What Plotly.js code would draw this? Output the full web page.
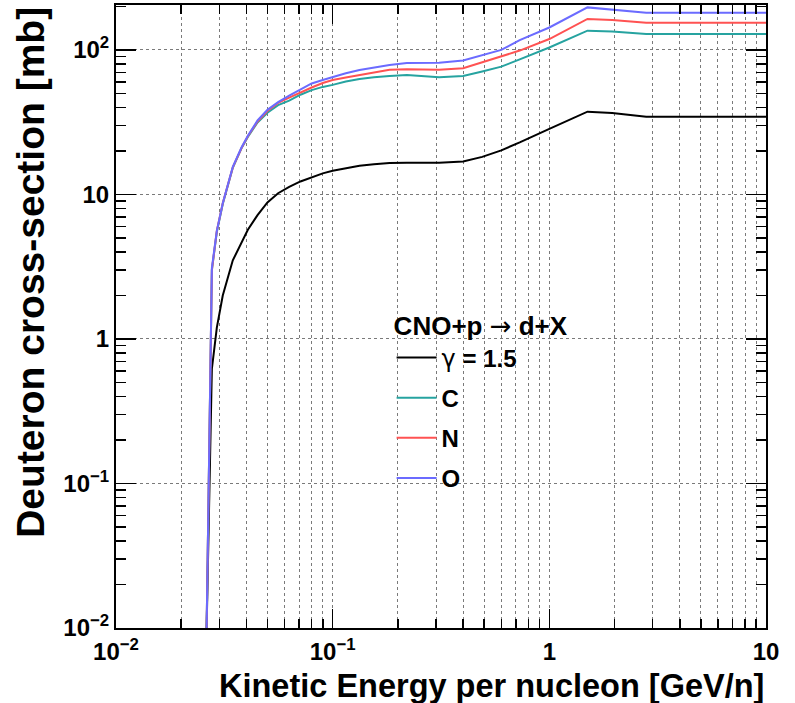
<!DOCTYPE html>
<html>
<head>
<meta charset="utf-8">
<script src="https://cdn.plot.ly/plotly-3.0.1.min.js"></script>
<style>
  html, body { margin: 0; padding: 0; background: #ffffff; }
  #chart { width: 795px; height: 703px; }
</style>
</head>
<body>
<div id="chart"></div>
<script>
// Kinetic energy per nucleon [GeV/n]
var energy = [0.0262, 0.0277, 0.0292, 0.0311, 0.0346, 0.0380, 0.0406, 0.045, 0.050, 0.056, 0.063, 0.071, 0.080, 0.090, 0.100, 0.115, 0.133, 0.155, 0.183, 0.220, 0.310, 0.400, 0.490, 0.600, 0.730, 1.00, 1.50, 1.95, 2.80, 10.0];
// Deuteron cross-section [mb]
var gammaSpec = [0.01, 0.62, 1.2, 2.0, 3.5, 4.7, 5.7, 7.2, 8.8, 10.2, 11.3, 12.3, 13.2, 14.0, 14.6, 15.2, 15.8, 16.2, 16.5, 16.6, 16.6, 16.9, 18.2, 20.2, 22.9, 28.4, 37.4, 36.6, 34.5, 34.5];
var carbon    = [0.01, 3.0, 5.5, 8.6, 15.3, 21.0, 25.0, 31.5, 36.8, 41.5, 44.6, 49.0, 52.7, 55.5, 57.3, 60.5, 63.0, 64.8, 66.0, 67.0, 64.7, 66.0, 71.0, 76.6, 86.0, 104, 136, 134, 129, 129];
var nitrogen  = [0.01, 3.0, 5.6, 8.7, 15.4, 21.0, 25.3, 32.0, 37.8, 43.0, 46.8, 51.0, 55.0, 59.0, 62.0, 64.5, 67.1, 70.0, 72.8, 73.5, 72.8, 74.7, 82.0, 89.5, 99.0, 119, 164, 161, 154, 154];
var oxygen    = [0.01, 3.1, 5.6, 8.7, 15.5, 21.2, 25.5, 32.5, 38.5, 43.5, 48.3, 53.5, 58.6, 62.0, 65.0, 69.0, 72.7, 76.0, 78.8, 81.3, 81.5, 84.5, 92.3, 100, 117, 143, 197, 191, 181, 181];

var sym = function (s) { return '<span style="font-family:DejaVu Sans;font-weight:normal">' + s + '</span>'; };
var seriesNames = [sym('γ') + ' = 1.5', 'C', 'N', 'O'];
var seriesColors = ['#000000', '#26a3a0', '#ff5252', '#6b6bff'];
var seriesData = [gammaSpec, carbon, nitrogen, oxygen];
var legendHeader = 'CNO+p ' + sym('→') + ' d+X';

var xMajorVals = [0.01, 0.1, 1, 10];
var xMajorText = ['10<sup>−2</sup>', '10<sup>−1</sup>', '1', '10'];
var yMajorVals = [0.01, 0.1, 1, 10, 100];
var yMajorText = ['10<sup>−2</sup>', '10<sup>−1</sup>', '1', '10', '10<sup>2</sup>'];

function minorTicks(decades) {
  var out = [];
  decades.forEach(function (d) { for (var k = 2; k <= 9; k++) out.push(k * d); });
  return out;
}
var xMinorVals = minorTicks([0.01, 0.1, 1]);
var yMinorVals = minorTicks([0.01, 0.1, 1, 10, 100]);

var traces = seriesData.map(function (vals, i) {
  return {
    x: energy, y: vals, type: 'scatter', mode: 'lines',
    name: seriesNames[i], legendgroup: 'g' + i,
    line: { color: seriesColors[i], width: 2 }
  };
});

var font = { family: 'Liberation Sans, Arial, sans-serif', weight: 'bold', color: '#000000' };

var layout = {
  width: 795, height: 703,
  margin: { l: 116, r: 29, t: 5, b: 75 },
  paper_bgcolor: '#ffffff', plot_bgcolor: '#ffffff',
  font: Object.assign({ size: 24 }, font),
  showlegend: true,
  legend: {
    x: 0.424, y: 0.524, xanchor: 'left', yanchor: 'top',
    bgcolor: 'rgba(0,0,0,0)', borderwidth: 0,
    font: Object.assign({ size: 24 }, font),
    title: { text: legendHeader, font: Object.assign({ size: 26 }, font) },
    tracegroupgap: 6, itemwidth: 40
  },
  xaxis: {
    type: 'log', range: [-2, 1],
    tickmode: 'array', tickvals: xMajorVals, ticktext: xMajorText,
    ticks: 'inside', ticklen: 19, tickwidth: 1.5, tickcolor: '#000',
    ticklabelstandoff: 1,
    showline: true, linecolor: '#000', linewidth: 2, mirror: 'allticks',
    showgrid: true, gridcolor: '#7a7a7a', gridwidth: 1, griddash: 'dot',
    zeroline: false,
    tickfont: Object.assign({ size: 24 }, font),
    minor: { tickmode: 'array', tickvals: xMinorVals, ticks: 'inside', ticklen: 9, tickwidth: 1.5, tickcolor: '#000',
             showgrid: true, gridcolor: '#7a7a7a', gridwidth: 1, griddash: 'dot' }
  },
  yaxis: {
    type: 'log', range: [-2, 2.311],
    tickmode: 'array', tickvals: yMajorVals, ticktext: yMajorText,
    ticks: 'inside', ticklen: 20, tickwidth: 1.5, tickcolor: '#000',
    showline: true, linecolor: '#000', linewidth: 2, mirror: 'allticks',
    showgrid: true, gridcolor: '#7a7a7a', gridwidth: 1, griddash: 'dot',
    zeroline: false,
    tickfont: Object.assign({ size: 24 }, font),
    minor: { tickmode: 'array', tickvals: yMinorVals, ticks: 'inside', ticklen: 10, tickwidth: 1.5, tickcolor: '#000',
             showgrid: false }
  },
  annotations: [
    { text: 'Kinetic Energy per nucleon [GeV/n]', xref: 'paper', yref: 'paper',
      x: 1.0, y: -0.061, xanchor: 'right', yanchor: 'top', showarrow: false,
      font: Object.assign({ size: 32.5 }, font) },
    { text: 'Deuteron cross-section [mb]', xref: 'paper', yref: 'paper',
      x: -0.168, y: 1.0, xanchor: 'left', yanchor: 'top', textangle: -90, showarrow: false,
      font: Object.assign({ size: 39 }, font) }
  ]
};

Plotly.newPlot('chart', traces, layout, { displayModeBar: false, staticPlot: true });
</script>
</body>
</html>
